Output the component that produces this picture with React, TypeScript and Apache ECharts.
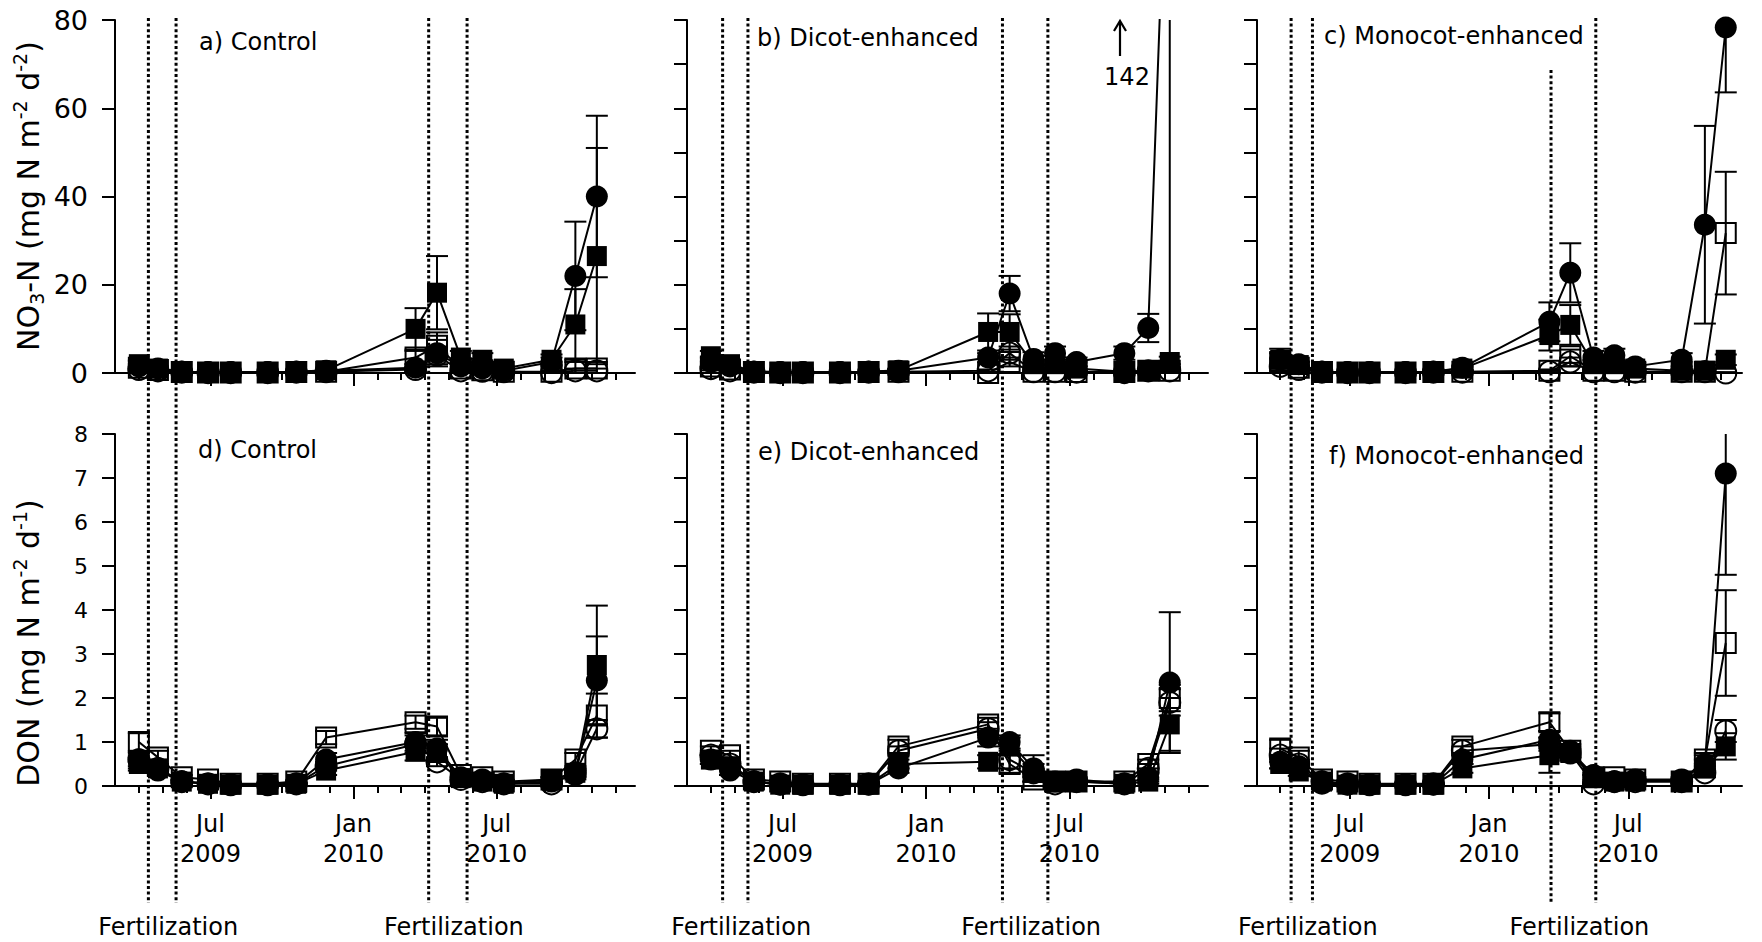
import React, { useEffect, useRef } from "react";
import * as echarts from "echarts";

// ---- sampling times: months since 1 Mar 2009 ----
const T = [1.0, 1.8, 2.8, 3.9, 4.85, 6.4, 7.6, 8.85, 12.6, 13.5, 14.5, 15.4, 16.3, 18.3, 19.3, 20.2];

// ---- x-axis ticks ----
const MONTH_TICKS = [1, 2, 3, 4, 5, 6, 7, 8, 9, 10, 11, 12, 13, 14, 15, 16, 17, 18, 19, 20, 21];
const MAJOR_TICKS = [4, 10, 16];
const MAJOR_LABELS = ["Jul\n2009", "Jan\n2010", "Jul\n2010"];

// ---- fertilization dates (months since 1 Mar 2009) ----
const fertA = [1.4, 2.56, 13.15, 14.76];
const fertB = [1.49, 2.55, 13.2, 15.1];
const fertC = [1.47, 2.39, 12.67, 14.6];

// ---- NO3-N, a) Control ----
const aFC = [1.5, 1.0, 0.3, 0.2, 0.2, 0.2, 0.3, 0.5, 1.2, 4.5, 1.5, 1.0, 0.5, 2.5, 22.0, 40.0];
const aFCe = [0.5, 0.3, 0, 0, 0, 0, 0, 0.3, 0.8, 3.0, 1.0, 0.5, 0.3, 1.0, 12.3, 18.3];
const aFS = [2.0, 1.0, 0.3, 0.2, 0.2, 0.2, 0.3, 0.6, 10.0, 18.2, 3.5, 3.0, 1.0, 3.0, 11.0, 26.5];
const aFSe = [0.8, 0.4, 0, 0, 0, 0, 0, 0.3, 4.7, 8.3, 1.5, 1.5, 0.5, 1.2, 8.0, 24.5];
const aOC = [0.8, 0.5, 0.2, 0.1, 0.1, 0.1, 0.2, 0.3, 0.8, 4.0, 0.5, 0.4, 0.3, 0.1, 0.5, 0.5];
const aOCe = [0.3, 0.2, 0, 0, 0, 0, 0, 0.1, 0.5, 2.0, 0.3, 0.2, 0.1, 0.1, 0.5, 0.5];
const aOS = [1.2, 0.7, 0.2, 0.1, 0.1, 0.1, 0.2, 0.3, 3.5, 6.2, 1.0, 0.6, 0.3, 0.3, 1.0, 1.0];
const aOSe = [0.4, 0.2, 0, 0, 0, 0, 0, 0.1, 1.5, 3.0, 0.5, 0.3, 0.1, 0.2, 1.5, 1.5];

// ---- NO3-N, b) Dicot-enhanced ----
const bFC = [2.5, 1.5, 0.3, 0.2, 0.2, 0.2, 0.3, 0.5, 3.5, 18.0, 3.2, 4.5, 2.5, 4.5, 10.2, 142];
const bFCe = [1.0, 0.5, 0, 0, 0, 0, 0, 0.3, 1.0, 4.0, 1.5, 1.5, 1.0, 1.5, 3.2, 140];
const bFS = [3.8, 2.0, 0.3, 0.2, 0.2, 0.2, 0.3, 0.6, 9.3, 9.3, 2.0, 2.0, 1.0, 0.3, 0.5, 2.5];
const bFSe = [1.2, 0.6, 0, 0, 0, 0, 0, 0.3, 4.2, 4.0, 1.0, 1.0, 0.5, 0.2, 0.3, 1.2];
const bOC = [1.0, 0.5, 0.2, 0.1, 0.1, 0.1, 0.2, 0.3, 0.5, 4.5, 0.3, 0.3, 0.2, 0.1, 0.5, 0.5];
const bOCe = [0.4, 0.2, 0, 0, 0, 0, 0, 0.1, 0.3, 1.5, 0.2, 0.2, 0.1, 0.1, 0.3, 0.3];
const bOS = [1.5, 0.8, 0.2, 0.1, 0.1, 0.1, 0.2, 0.3, 0.0, 2.5, 0.3, 0.3, 0.2, 0.2, 0.5, 0.5];
const bOSe = [0.5, 0.3, 0, 0, 0, 0, 0, 0.1, 0.2, 1.0, 0.2, 0.2, 0.1, 0.1, 0.3, 0.3];

// ---- NO3-N, c) Monocot-enhanced ----
const cFC = [3.0, 2.0, 0.3, 0.2, 0.2, 0.2, 0.3, 1.2, 11.6, 22.7, 3.5, 4.0, 1.5, 3.0, 33.6, 78.3];
const cFCe = [2.5, 0.6, 0, 0, 0, 0, 0, 0.5, 4.4, 6.7, 1.5, 1.5, 0.8, 1.5, 22.4, 14.7];
const cFS = [3.0, 1.8, 0.3, 0.2, 0.2, 0.2, 0.3, 1.0, 8.6, 10.9, 2.0, 2.0, 1.0, 0.5, 0.5, 3.0];
const cFSe = [1.5, 0.6, 0, 0, 0, 0, 0, 0.4, 3.5, 4.5, 1.0, 1.0, 0.5, 0.3, 0.3, 1.2];
const cOC = [1.5, 0.8, 0.2, 0.1, 0.1, 0.1, 0.2, 0.2, 0.3, 2.5, 0.3, 0.3, 0.2, 0.3, 0.3, 0.0];
const cOCe = [0.5, 0.3, 0, 0, 0, 0, 0, 0.1, 0.2, 1.0, 0.2, 0.2, 0.1, 0.2, 0.2, 0.2];
const cOS = [2.5, 1.2, 0.2, 0.1, 0.1, 0.1, 0.2, 0.3, 0.5, 3.8, 0.5, 0.5, 0.3, 0.3, 0.3, 31.7];
const cOSe = [0.8, 0.4, 0, 0, 0, 0, 0, 0.1, 0.3, 1.5, 0.3, 0.3, 0.2, 0.2, 0.2, 13.9];

// ---- DON, d) Control ----
const dFC = [0.55, 0.35, 0.1, 0.05, 0.03, 0.03, 0.05, 0.6, 1.0, 0.85, 0.2, 0.15, 0.05, 0.1, 0.25, 2.4];
const dFCe = [0.15, 0.1, 0.03, 0.02, 0.01, 0.01, 0.02, 0.15, 0.2, 0.2, 0.05, 0.05, 0.02, 0.05, 0.1, 1.0];
const dFS = [0.5, 0.4, 0.1, 0.05, 0.03, 0.03, 0.05, 0.35, 0.78, 0.75, 0.18, 0.1, 0.05, 0.15, 0.3, 2.75];
const dFSe = [0.15, 0.1, 0.03, 0.02, 0.01, 0.01, 0.02, 0.1, 0.2, 0.2, 0.05, 0.05, 0.02, 0.05, 0.1, 1.35];
const dOC = [0.6, 0.4, 0.1, 0.05, 0.03, 0.03, 0.05, 0.45, 0.95, 0.55, 0.15, 0.1, 0.05, 0.05, 0.3, 1.3];
const dOCe = [0.15, 0.1, 0.03, 0.02, 0.01, 0.01, 0.02, 0.1, 0.2, 0.1, 0.05, 0.05, 0.02, 0.02, 0.1, 0.2];
const dOS = [1.0, 0.65, 0.2, 0.15, 0.05, 0.05, 0.1, 1.1, 1.45, 1.35, 0.25, 0.2, 0.1, 0.15, 0.6, 1.6];
const dOSe = [0.2, 0.15, 0.05, 0.05, 0.02, 0.02, 0.03, 0.15, 0.15, 0.2, 0.05, 0.05, 0.03, 0.05, 0.15, 0.5];

// ---- DON, e) Dicot-enhanced ----
const eFC = [0.6, 0.35, 0.1, 0.03, 0.03, 0.03, 0.03, 0.4, 1.1, 1.0, 0.4, 0.1, 0.15, 0.05, 0.2, 2.35];
const eFCe = [0.1, 0.1, 0.03, 0.01, 0.01, 0.01, 0.01, 0.1, 0.2, 0.15, 0.3, 0.05, 0.05, 0.02, 0.1, 1.6];
const eFS = [0.6, 0.45, 0.1, 0.03, 0.03, 0.03, 0.03, 0.5, 0.55, 0.9, 0.3, 0.1, 0.1, 0.05, 0.1, 1.4];
const eFSe = [0.1, 0.1, 0.03, 0.01, 0.01, 0.01, 0.01, 0.1, 0.15, 0.2, 0.2, 0.05, 0.05, 0.02, 0.05, 0.6];
const eOC = [0.7, 0.5, 0.1, 0.05, 0.03, 0.03, 0.05, 0.8, 1.3, 0.6, 0.3, 0.05, 0.1, 0.05, 0.4, 1.9];
const eOCe = [0.1, 0.1, 0.03, 0.02, 0.01, 0.01, 0.02, 0.1, 0.15, 0.2, 0.1, 0.02, 0.05, 0.02, 0.1, 0.3];
const eOS = [0.8, 0.7, 0.15, 0.1, 0.05, 0.05, 0.05, 0.9, 1.4, 0.5, 0.15, 0.1, 0.1, 0.1, 0.5, 2.0];
const eOSe = [0.1, 0.1, 0.05, 0.03, 0.02, 0.02, 0.02, 0.15, 0.15, 0.2, 0.05, 0.05, 0.05, 0.03, 0.1, 0.3];

// ---- DON, f) Monocot-enhanced ----
const fFC = [0.55, 0.45, 0.05, 0.03, 0.03, 0.03, 0.03, 0.6, 1.05, 0.8, 0.25, 0.1, 0.15, 0.15, 0.5, 7.1];
const fFCe = [0.15, 0.1, 0.02, 0.01, 0.01, 0.01, 0.01, 0.1, 0.2, 0.1, 0.05, 0.05, 0.05, 0.05, 0.2, 2.3];
const fFS = [0.5, 0.33, 0.1, 0.03, 0.03, 0.03, 0.03, 0.4, 0.7, 0.75, 0.2, 0.1, 0.1, 0.1, 0.4, 0.9];
const fFSe = [0.1, 0.1, 0.03, 0.01, 0.01, 0.01, 0.01, 0.1, 0.4, 0.1, 0.05, 0.05, 0.05, 0.05, 0.2, 0.3];
const fOC = [0.7, 0.5, 0.1, 0.05, 0.03, 0.03, 0.05, 0.8, 0.95, 0.75, 0.05, 0.1, 0.1, 0.1, 0.3, 1.25];
const fOCe = [0.15, 0.1, 0.03, 0.02, 0.01, 0.01, 0.02, 0.1, 0.15, 0.1, 0.03, 0.05, 0.05, 0.05, 0.1, 0.25];
const fOS = [0.85, 0.65, 0.15, 0.1, 0.05, 0.05, 0.05, 0.9, 1.45, 0.8, 0.2, 0.2, 0.15, 0.1, 0.6, 3.25];
const fOSe = [0.2, 0.15, 0.05, 0.03, 0.02, 0.02, 0.02, 0.15, 0.2, 0.15, 0.05, 0.05, 0.05, 0.03, 0.15, 1.2];

const TITLES = ["a) Control", "b) Dicot-enhanced", "c) Monocot-enhanced", "d) Control", "e) Dicot-enhanced", "f) Monocot-enhanced"];

// ---- layout (not data) ----
const FONT = '"DejaVu Sans", "Liberation Sans", Arial, sans-serif';
const PANELS = [
  { grid: { left: 115, top: 20, width: 520, height: 353 }, xMax: 21.8, yMax: 80, yInt: 20, yLabels: true, yFont: 27, bottom: false, title: [199, 42],
    data: [[aOS, aOSe], [aOC, aOCe], [aFC, aFCe], [aFS, aFSe]] },
  { grid: { left: 687, top: 20, width: 521, height: 353 }, xMax: 21.8, yMax: 80, yInt: 10, yLabels: false, yFont: 27, bottom: false, title: [757, 38],
    data: [[bOS, bOSe], [bOC, bOCe], [bFC, bFCe], [bFS, bFSe]] },
  { grid: { left: 1257, top: 20, width: 485, height: 353 }, xMax: 20.9, yMax: 80, yInt: 10, yLabels: false, yFont: 27, bottom: false, title: [1324, 36],
    data: [[cOS, cOSe], [cOC, cOCe], [cFC, cFCe], [cFS, cFSe]] },
  { grid: { left: 115, top: 434, width: 520, height: 352 }, xMax: 21.8, yMax: 8, yInt: 1, yLabels: true, yFont: 22, bottom: true, title: [198, 450],
    data: [[dOS, dOSe], [dOC, dOCe], [dFC, dFCe], [dFS, dFSe]] },
  { grid: { left: 687, top: 434, width: 521, height: 352 }, xMax: 21.8, yMax: 8, yInt: 1, yLabels: false, yFont: 22, bottom: true, title: [758, 452],
    data: [[eOS, eOSe], [eOC, eOCe], [eFC, eFCe], [eFS, eFSe]] },
  { grid: { left: 1257, top: 434, width: 485, height: 352 }, xMax: 20.9, yMax: 8, yInt: 1, yLabels: false, yFont: 22, bottom: true, title: [1329, 456],
    data: [[fOS, fOSe], [fOC, fOCe], [fFC, fFCe], [fFS, fFSe]] },
];
// marker styles in order of PANELS[i].data
const MARKERS = [
  { symbol: "rect", size: 20, filled: false },
  { symbol: "circle", size: 21, filled: false },
  { symbol: "circle", size: 22, filled: true },
  { symbol: "rect", size: 20, filled: true },
];

const LINE_W = 2;

function errorBars(gi: number, ys: number[], es: number[]) {
  return {
    type: "custom",
    xAxisIndex: gi * 2,
    yAxisIndex: gi,
    clip: true,
    z: 1,
    silent: true,
    encode: { x: 0, y: 1 },
    data: T.map((t, i) => [t, ys[i], es[i]]),
    renderItem: (params: any, api: any) => {
      const x = api.value(0);
      const y = api.value(1);
      const e = api.value(2);
      if (!e) return null;
      const hi = api.coord([x, y + e]);
      const lo = api.coord([x, y - e]);
      const w = 11;
      const st = { stroke: "#000", lineWidth: LINE_W, fill: null };
      return {
        type: "group",
        children: [
          { type: "line", shape: { x1: hi[0], y1: hi[1], x2: lo[0], y2: lo[1] }, style: st },
          { type: "line", shape: { x1: hi[0] - w, y1: hi[1], x2: hi[0] + w, y2: hi[1] }, style: st },
          { type: "line", shape: { x1: lo[0] - w, y1: lo[1], x2: lo[0] + w, y2: lo[1] }, style: st },
        ],
      };
    },
  };
}

function buildOption() {
  const grid: any[] = [];
  const xAxis: any[] = [];
  const yAxis: any[] = [];
  const series: any[] = [];
  PANELS.forEach((p, gi) => {
    grid.push({ ...p.grid, containLabel: false });
    xAxis.push({
      type: "value", gridIndex: gi, min: 0, max: p.xMax, position: "bottom",
      axisLine: { show: true, onZero: false, lineStyle: { color: "#000", width: LINE_W } },
      axisTick: { show: true, customValues: MONTH_TICKS.filter((m) => m < p.xMax), length: 7, lineStyle: { color: "#000", width: LINE_W } },
      axisLabel: { show: false },
      splitLine: { show: false },
    });
    xAxis.push({
      type: "value", gridIndex: gi, min: 0, max: p.xMax, position: "bottom",
      axisLine: { show: false, onZero: false },
      axisTick: { show: true, customValues: MAJOR_TICKS, length: 13, lineStyle: { color: "#000", width: LINE_W } },
      axisLabel: {
        show: p.bottom, customValues: MAJOR_TICKS, margin: 23, color: "#000", fontFamily: FONT, fontSize: 24, lineHeight: 30,
        formatter: (v: number) => MAJOR_LABELS[MAJOR_TICKS.indexOf(Math.round(v))] || "",
      },
      splitLine: { show: false },
    });
    yAxis.push({
      type: "value", gridIndex: gi, min: 0, max: p.yMax, interval: p.yInt,
      axisLine: { show: true, onZero: false, lineStyle: { color: "#000", width: LINE_W } },
      axisTick: { show: true, length: 13, lineStyle: { color: "#000", width: LINE_W } },
      axisLabel: { show: p.yLabels, margin: 27, color: "#000", fontFamily: FONT, fontSize: p.yFont },
      splitLine: { show: false },
    });
    p.data.forEach(([ys, es], si) => {
      series.push(errorBars(gi, ys, es));
      const m = MARKERS[si];
      series.push({
        type: "line",
        xAxisIndex: gi * 2,
        yAxisIndex: gi,
        data: T.map((t, i) => [t, ys[i]]),
        symbol: m.symbol,
        symbolSize: m.size,
        showAllSymbol: true,
        clip: true,
        z: 2 + si,
        silent: true,
        lineStyle: { color: "#000", width: LINE_W },
        itemStyle: m.filled
          ? { color: "#000", borderColor: "#000", borderWidth: 0 }
          : { color: "rgba(255,255,255,0)", borderColor: "#000", borderWidth: 2 },
        emphasis: { disabled: true },
      });
    });
  });
  return { animation: false, backgroundColor: "#fff", grid, xAxis, yAxis, series };
}

const RICH = {
  a: { fontFamily: FONT, fontSize: 30, lineHeight: 36, color: "#000" },
  sup: { fontFamily: FONT, fontSize: 19, lineHeight: 18, verticalAlign: "top", color: "#000" },
  sub: { fontFamily: FONT, fontSize: 19, lineHeight: 18, verticalAlign: "bottom", color: "#000" },
};

export default function App() {
  const ref = useRef<HTMLDivElement>(null);
  useEffect(() => {
    document.body.style.margin = "0";
    const chart = echarts.init(ref.current!, null, { renderer: "svg" });
    chart.setOption(buildOption());

    const graphics: any[] = [];
    // titles
    PANELS.forEach((p, i) => {
      graphics.push({
        type: "text", x: p.title[0], y: p.title[1],
        style: { text: TITLES[i], fontFamily: FONT, fontSize: 24, fill: "#000", align: "left", verticalAlign: "middle" },
      });
    });
    // y-axis names
    graphics.push({
      type: "text", x: 28, y: 196, rotation: Math.PI / 2,
      style: {
        text: "{a|NO}{sub|3}{a|-N (mg N m}{sup|-2}{a| d}{sup|-2}{a|)}",
        rich: RICH, align: "center", verticalAlign: "middle",
      },
    });
    graphics.push({
      type: "text", x: 28, y: 643, rotation: Math.PI / 2,
      style: {
        text: "{a|DON (mg N m}{sup|-2}{a| d}{sup|-1}{a|)}",
        rich: RICH, align: "center", verticalAlign: "middle",
      },
    });
    // fertilization lines & labels
    const ferts = [fertA, fertB, fertC];
    ferts.forEach((fs, k) => {
      const px = fs.map((t) => chart.convertToPixel({ xAxisIndex: k * 2 }, t) as number);
      px.forEach((x, j) => {
        const yTop = k === 2 && j === 2 ? 70 : 18;
        graphics.push({
          type: "line", silent: true, z: 0,
          shape: { x1: x, y1: yTop, x2: x, y2: 903 },
          style: { stroke: "#000", lineWidth: 3, lineDash: [3, 2.6] },
        });
      });
      [0, 2].forEach((j) => {
        graphics.push({
          type: "text", x: (px[j] + px[j + 1]) / 2 + 6, y: 927,
          style: { text: "Fertilization", fontFamily: FONT, fontSize: 24, fill: "#000", align: "center", verticalAlign: "middle" },
        });
      });
    });
    // 142 annotation
    graphics.push({ type: "line", shape: { x1: 1120, y1: 56, x2: 1120, y2: 22 }, style: { stroke: "#000", lineWidth: 2.2 } });
    graphics.push({ type: "polyline", shape: { points: [[1114, 31], [1120, 21], [1126, 31]] }, style: { stroke: "#000", lineWidth: 2.2, fill: null } });
    graphics.push({
      type: "text", x: 1127, y: 77,
      style: { text: "142", fontFamily: FONT, fontSize: 24, fill: "#000", align: "center", verticalAlign: "middle" },
    });
    chart.setOption({ graphic: graphics });
    return () => chart.dispose();
  }, []);
  return <div ref={ref} style={{ width: 1762, height: 942 }} />;
}
